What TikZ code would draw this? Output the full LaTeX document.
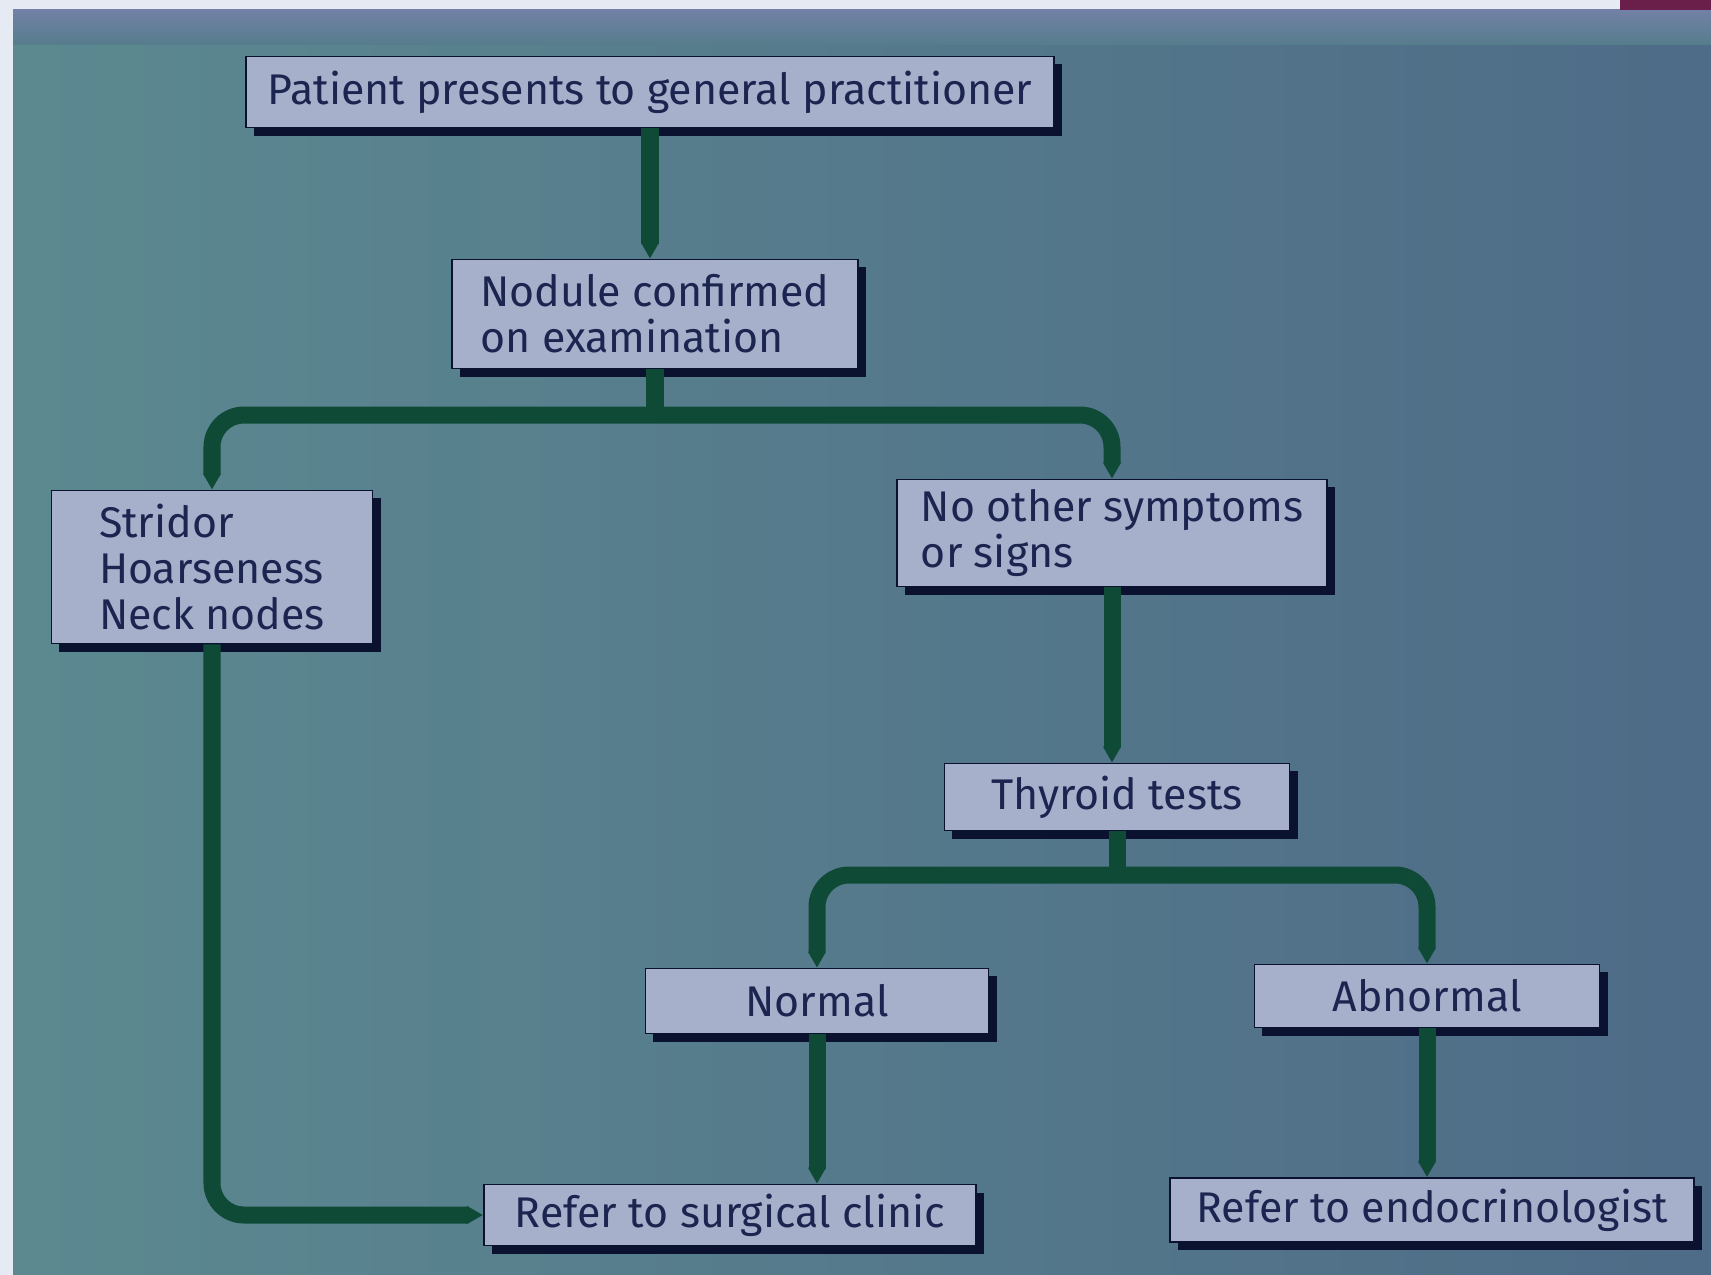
\documentclass[tikz,border=0pt]{standalone}
\usepackage{fontspec}
\setmainfont{Fira Sans}
\usepackage{tikz}
\usetikzlibrary{arrows.meta,shadows}

\definecolor{bgleft}{HTML}{5C8990}
\definecolor{bgright}{HTML}{4E6B87}
\definecolor{bandc}{HTML}{7381A6}
\definecolor{boxfill}{HTML}{A7B0CB}
\definecolor{inkc}{HTML}{1C2550}
\definecolor{shadowc}{HTML}{0B1230}
\definecolor{flowc}{HTML}{0F4A37}
\definecolor{edgec}{HTML}{E6EAF2}
\definecolor{maroonc}{HTML}{6A1F4A}

\begin{document}
\begin{tikzpicture}[
        x=0.01cm, y=-0.01cm,
        box/.style={draw=shadowc, line width=0.5pt, fill=boxfill, text=inkc, align=left,
            font=\fontsize{12.2}{13}\selectfont, inner sep=0pt,
            general shadow={fill=shadowc, shadow xshift=0.08cm, shadow yshift=-0.08cm}},
        link/.style={draw=flowc, line width=0.17cm},
        flow/.style={link, rounded corners=0.32cm, -{Triangle[width=0.17cm, length=0.16cm]}}
    ]
        % backdrop of the photographed slide
        \useasboundingbox (0,0) rectangle (1711,1275);
        \fill[left color=bgleft, right color=bgright] (0,0) rectangle (1711,1275);
        \fill[top color=bandc, bottom color=bgleft!60!bgright] (13,9) rectangle (1711,44);
        \fill[edgec] (0,0) rectangle (1711,9);
        \fill[edgec] (0,0) rectangle (13,1275);
        \fill[maroonc] (1620,0) rectangle (1711,10);

        \node[box, minimum width=8.07cm, minimum height=0.71cm] (patient) at (650,92) {Patient presents to general practitioner};
        \node[box, minimum width=4.06cm, minimum height=1.09cm] (nodule) at (655,314) {Nodule confirmed\\on examination};
        \node[box, minimum width=3.21cm, minimum height=1.53cm] (stridor) at (212,567) {Stridor\\Hoarseness\\Neck nodes};
        \node[box, minimum width=4.30cm, minimum height=1.07cm] (nosigns) at (1112,533) {No other symptoms\\or signs};
        \node[box, minimum width=3.45cm, minimum height=0.67cm] (thyroid) at (1117,797) {Thyroid tests};
        \node[box, minimum width=3.43cm, minimum height=0.65cm] (normal) at (817,1001) {Normal};
        \node[box, minimum width=3.45cm, minimum height=0.63cm] (abnormal) at (1427,996) {Abnormal};
        \node[box, minimum width=4.92cm, minimum height=0.61cm] (surgical) at (730,1215) {Refer to surgical clinic};
        \node[box, minimum width=5.24cm, minimum height=0.64cm] (endo) at (1432,1210) {Refer to endocrinologist};

        \coordinate (fork1) at (655,415);
        \coordinate (fork2) at (1117,875);

        \draw[flow] (patient.south) -- (patient.south |- nodule.north);
        \draw[link] (nodule.south) -- (fork1);
        \draw[flow] (fork1) -| (stridor.north);
        \draw[flow] (fork1) -| (nosigns.north);
        \draw[flow] (stridor.south) |- (surgical.west);
        \draw[flow] (nosigns.south) -- (nosigns.south |- thyroid.north);
        \draw[link] (thyroid.south) -- (fork2);
        \draw[flow] (fork2) -| (normal.north);
        \draw[flow] (fork2) -| (abnormal.north);
        \draw[flow] (normal.south) -- (normal.south |- surgical.north);
        \draw[flow] (abnormal.south) -- (abnormal.south |- endo.north);
    \end{tikzpicture}
\end{document}
